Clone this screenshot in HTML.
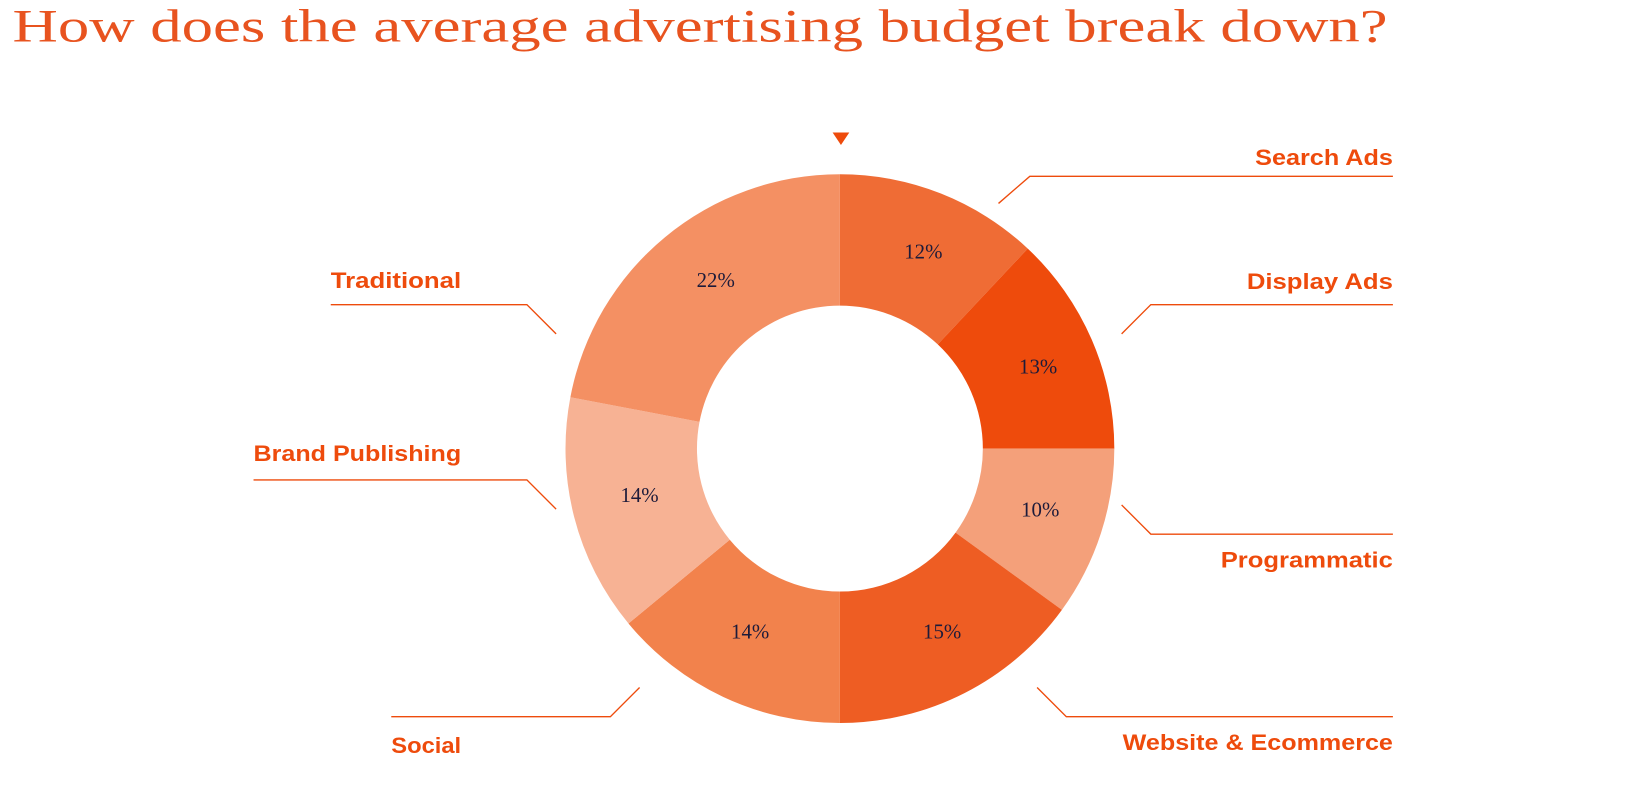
<!DOCTYPE html>
<html><head><meta charset="utf-8"><style>
html,body{margin:0;padding:0;background:#fff;}
svg{display:block}
.lab{font-family:"Liberation Sans",sans-serif;font-weight:bold;font-size:21px;fill:#EE4B0C;}
.pct{font-family:"Liberation Serif",serif;font-size:20px;fill:#1d1b3a;text-anchor:middle;}
.ln{stroke:#EE4B0C;stroke-width:1.3;fill:none;}
</style></head><body>
<svg id="s" width="1636" height="786" viewBox="0 0 1568 753.4" preserveAspectRatio="none" xmlns="http://www.w3.org/2000/svg">
<text x="12" y="40" font-family="Liberation Serif,serif" font-size="45" fill="#E8531F" textLength="1318" lengthAdjust="spacingAndGlyphs">How does the average advertising budget break down?</text>
<polygon points="798,127 814,127 806,139" fill="#EE4B0C"/>
<g id="wedges"></g>
<text class="pct" x="885" y="248">12%</text>
<text class="pct" x="995" y="358">13%</text>
<text class="pct" x="997" y="495">10%</text>
<text class="pct" x="903" y="612">15%</text>
<text class="pct" x="719" y="612">14%</text>
<text class="pct" x="613" y="481">14%</text>
<text class="pct" x="686" y="275">22%</text>
<polyline class="ln" points="957,195 987,169 1335,169"/>
<text class="lab" x="1203" y="158" textLength="132" lengthAdjust="spacingAndGlyphs">Search Ads</text>
<polyline class="ln" points="1075,320 1103,292 1335,292"/>
<text class="lab" x="1195" y="277" textLength="140" lengthAdjust="spacingAndGlyphs">Display Ads</text>
<polyline class="ln" points="1075,484 1103,512 1335,512"/>
<text class="lab" x="1170" y="544" textLength="165" lengthAdjust="spacingAndGlyphs">Programmatic</text>
<polyline class="ln" points="994,659 1022,687 1335,687"/>
<text class="lab" x="1076" y="719" textLength="259" lengthAdjust="spacingAndGlyphs">Website &amp; Ecommerce</text>
<polyline class="ln" points="613,659 585,687 375,687"/>
<text class="lab" x="375" y="722" textLength="67" lengthAdjust="spacingAndGlyphs">Social</text>
<polyline class="ln" points="243,460 505,460 533,488"/>
<text class="lab" x="243" y="442" textLength="199" lengthAdjust="spacingAndGlyphs">Brand Publishing</text>
<polyline class="ln" points="317,292 505,292 533,320"/>
<text class="lab" x="317" y="276" textLength="125" lengthAdjust="spacingAndGlyphs">Traditional</text>
</svg>
<script>
(function(){
var cx=805,cy=430,R=263,r=137;
var data=[[12,"#EF6C35"],[13,"#EE4B0C"],[10,"#F4A07A"],[15,"#EE5D23"],[14,"#F2824C"],[14,"#F7B294"],[22,"#F49063"]];
var g=document.getElementById("wedges"),a=0,ns="http://www.w3.org/2000/svg";
function pt(rad,ang){var t=ang*Math.PI/180;return [cx+rad*Math.sin(t),cy-rad*Math.cos(t)];}
data.forEach(function(d){
 var a2=a+d[0]*3.6,lg=(a2-a)>180?1:0;
 var p1=pt(R,a),p2=pt(R,a2),p3=pt(r,a2),p4=pt(r,a);
 var p=document.createElementNS(ns,"path");
 p.setAttribute("d","M"+p1+" A"+R+","+R+" 0 "+lg+" 1 "+p2+" L"+p3+" A"+r+","+r+" 0 "+lg+" 0 "+p4+" Z");
 p.setAttribute("fill",d[1]);g.appendChild(p);a=a2;
});
})();
</script>
</body></html>
